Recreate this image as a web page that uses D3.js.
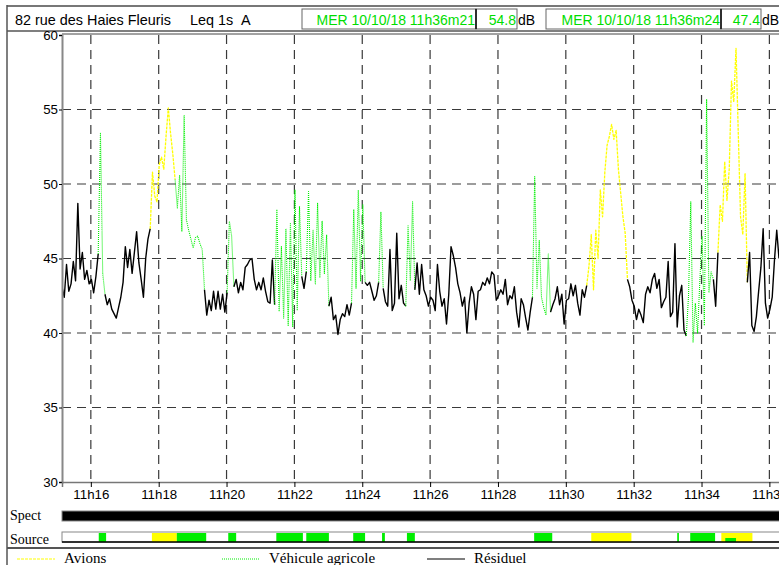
<!DOCTYPE html>
<html lang="fr">
<head>
<meta charset="UTF-8">
<title>82 rue des Haies Fleuris - Leq 1s A</title>
<script src="https://d3js.org/d3.v7.min.js"></script>
<style>
  body { margin: 0; background: #fff; }
  svg { display: block; font-family: "Liberation Sans", Arial, sans-serif; }
  .serif { font-family: "Liberation Serif", "Times New Roman", serif; }
</style>
</head>
<body>
<div id="chart"></div>
<script>
// sampling step of the series (seconds)
const stepSec = 4;

const yTicks = [30, 35, 40, 45, 50, 55, 60];

// [source, start time, levels in dB(A) every stepSec]
// A = Avions, V = Véhicule agricole, R = Résiduel
const segments = [
  ["R", "11:15:09", [43.1,42.4,44.6,42.8,43.3,44.8,43.5,48.7,44.3,45.4,43.6,44.2,43.3,43.6,42.7,43.8,45.3]],
  ["V", "11:16:13", [45.3,53.4,44.0,42.6]],
  ["R", "11:16:25", [42.6,41.9,42.3,41.6,41.3,41.0,41.7,42.4,43.4,45.8,44.4,45.6,44.0,45.4,46.8,44.7,43.6,42.4,45.0,46.3,47.0]],
  ["A", "11:17:45", [47.0,50.8,49.2,48.8,51.3,51.8,51.0,53.2,55.1,53.4,52.0,50.3]],
  ["V", "11:18:29", [50.3,48.4,50.6,46.8,54.6,47.6,46.9,46.3,45.7,46.4,46.5,46.0,45.6,42.9]],
  ["R", "11:19:21", [42.9,41.2,42.2,41.5,42.8,41.6,42.8,41.6,42.6,41.4,42.7]],
  ["V", "11:20:01", [42.7,47.5,46.5,43.1]],
  ["R", "11:20:13", [43.1,43.6,42.7,43.4,42.9,44.4,44.6,44.9,45.0,43.6,42.9,43.4,42.9,43.7,42.8,42.1,42.0,44.9,41.9]],
  ["V", "11:21:25", [41.9,48.3,41.5,45.8,41.0,47.0,40.5,47.4,40.4,49.6,41.5,48.5,43.8]],
  ["R", "11:22:13", [43.8,43.0,44.1]],
  ["V", "11:22:21", [44.1,49.5,43.5,46.9,43.3,48.7,43.7,47.5,44.0,46.6,41.8]],
  ["R", "11:23:01", [41.8,42.4,40.9,41.2,39.9,40.9,41.3,41.1,41.9,41.2,42.0]],
  ["V", "11:23:41", [42.0,48.3,43.0,49.6,43.5,48.6,43.4]],
  ["R", "11:24:05", [43.4,43.2,43.4,42.8,42.2,42.5,43.4]],
  ["V", "11:24:29", [43.4,48.1,43.0]],
  ["R", "11:24:37", [43.0,42.1,41.8,45.6,41.5,42.0,46.7,42.3,43.2,42.0,41.8]],
  ["V", "11:25:17", [41.8,47.2,43.5,48.8,42.9]],
  ["R", "11:25:33", [42.9,44.7,42.6,44.6,42.9,42.5,41.8,42.4,42.2,41.5,44.6,42.8,41.8,42.3,40.6,42.6,45.8,45.2,44.4,43.3,
                     42.7,41.8,42.4,40.0,42.0,43.1,42.6,40.9,42.8,42.9,43.4,43.2,43.7,43.3,44.1,43.9,42.2,42.5,42.9,42.6,
                     43.6,41.9,42.5,42.3,43.1,41.4,40.4,42.3,41.9,41.0,40.2,41.4,42.4]],
  ["V", "11:29:01", [42.4,50.5,43.0,46.2,42.4,41.7,41.2,45.3,41.4]],
  ["R", "11:29:33", [41.4,41.9,42.3,43.1,41.9,42.6,40.6,42.2,42.3,43.3,42.5,43.2,42.0,41.2,42.9,42.4,43.2]],
  ["A", "11:30:37", [43.2,44.5,46.6,42.9,46.9,45.0,49.6,47.8,50.8,52.6,53.2,54.0,53.0,53.6,51.0,49.4,47.8,46.7,43.6]],
  ["R", "11:31:49", [43.6,43.1,42.2,41.8,40.9,41.6,41.2,40.7,42.6,43.1,42.7,43.6,44.0,43.0,43.6,41.7,42.1,42.4,44.8,41.1,
                     41.4,46.0,40.4,42.5,43.2,40.2,39.8]],
  ["V", "11:33:33", [39.8,42.5,48.8,39.4,42.0,40.0,43.5,46.5,40.5,55.7,42.7,44.1,43.6]],
  ["R", "11:34:21", [43.6,41.8,45.4]],
  ["A", "11:34:29", [45.4,48.6,47.5,51.5,48.9,51.0,56.9,55.5,59.1,53.4,47.8,46.6,50.7,43.4]],
  ["R", "11:35:21", [43.4,45.4,40.5,40.1,41.1,42.8,44.4,47.0,42.0,41.0,41.6,42.4,44.9,46.9,45.0]]
];

// source coding bar: [source, from, to, row] (row 1 = small lower mark)
const sourceBands = [
  ["V", "11:16:14", "11:16:27", 0],
  ["A", "11:17:48", "11:18:32", 0],
  ["V", "11:18:32", "11:19:24", 0],
  ["V", "11:20:03", "11:20:17", 0],
  ["V", "11:21:28", "11:22:15", 0],
  ["V", "11:22:21", "11:23:01", 0],
  ["V", "11:23:44", "11:24:05", 0],
  ["V", "11:24:35", "11:24:40", 0],
  ["V", "11:25:19", "11:25:33", 0],
  ["V", "11:29:04", "11:29:36", 0],
  ["A", "11:30:45", "11:31:56", 0],
  ["V", "11:33:17", "11:33:20", 0],
  ["V", "11:33:40", "11:34:24", 0],
  ["A", "11:34:35", "11:35:30", 0],
  ["V", "11:34:42", "11:35:01", 1]
];

const cursorDates = ["MER 10/10/18 11h36m21", "MER 10/10/18 11h36m24"];
const cursorLevels = ["54.8", "47.4"];

const legendKeys = ["A", "V", "R"];
const legendLabels = ["Avions", "Véhicule agricole", "Résiduel"];

// ---- drawing ----
const W = 779, H = 565;
const parseT = d3.timeParse("%H:%M:%S");
const colors = { A: "#ffff00", V: "#00ee00", R: "#000000" };
const dashes = { A: "3,1", V: "1,1", R: null };
const widths = { A: 1.3, V: 1.1, R: 1.4 };
const green = "#00dd00";
const sans = "Liberation Sans, Arial, sans-serif";

const svg = d3.select("#chart").append("svg")
  .attr("width", W).attr("height", H);

const plotL = 62, plotT = 35, plotB = 482;

const x = d3.scaleTime()
  .domain([parseT("11:15:09"), parseT("11:36:40")])
  .range([plotL, 792]);
const y = d3.scaleLinear().domain([30, 60]).range([plotB, plotT]);

// frame
const frame = svg.append("g").attr("fill", "none");
frame.append("line").attr("x1", 7).attr("x2", W).attr("y1", 6).attr("y2", 6)
  .attr("stroke", "#777").attr("stroke-width", 2);
frame.append("line").attr("x1", 7).attr("x2", W).attr("y1", 31).attr("y2", 31)
  .attr("stroke", "#555").attr("stroke-width", 1.5);
frame.append("line").attr("x1", 7).attr("x2", 7).attr("y1", 5).attr("y2", H)
  .attr("stroke", "#555").attr("stroke-width", 1.5);
frame.append("line").attr("x1", 7).attr("x2", W).attr("y1", 548).attr("y2", 548)
  .attr("stroke", "#555").attr("stroke-width", 2);

// header
svg.append("text").attr("x", 15).attr("y", 25).attr("font-size", 14.4)
  .text("82 rue des Haies Fleuris");
svg.append("text").attr("x", 190).attr("y", 25).attr("font-size", 14.4).text("Leq 1s");
svg.append("text").attr("x", 241).attr("y", 25).attr("font-size", 14.4).text("A");

const boxes = [
  { x0: 302, x1: 476, text: cursorDates[0] },
  { x0: 476, x1: 517, text: cursorLevels[0], unit: true },
  { x0: 546, x1: 721, text: cursorDates[1] },
  { x0: 721, x1: 761, text: cursorLevels[1], unit: true }
];
boxes.forEach(b => {
  svg.append("rect").attr("x", b.x0).attr("y", 9).attr("width", b.x1 - b.x0).attr("height", 20)
    .attr("fill", "none").attr("stroke", "#666").attr("stroke-width", 1);
  svg.append("text").attr("x", b.x1 - 1).attr("y", 25).attr("font-size", 14)
    .attr("text-anchor", "end").attr("fill", green).text(b.text);
  if (b.unit) {
    svg.append("text").attr("x", b.x1 + 1).attr("y", 25).attr("font-size", 14).text("dB");
  }
});
// darker separators before the level boxes
[476, 721].forEach(px => {
  svg.append("line").attr("x1", px).attr("x2", px).attr("y1", 9).attr("y2", 29)
    .attr("stroke", "#111").attr("stroke-width", 1.5);
});

// grid
const grid = svg.append("g").attr("stroke", "#3a3a3a").attr("stroke-width", 1.2)
  .attr("stroke-dasharray", "9,6");
const xTicks = d3.timeMinute.every(2).range(parseT("11:16:00"), parseT("11:36:30"));
grid.selectAll("line.v").data(xTicks).join("line")
  .attr("x1", d => x(d)).attr("x2", d => x(d)).attr("y1", plotT).attr("y2", plotB);
grid.selectAll("line.h").data(yTicks.filter(v => v > 30 && v < 60)).join("line")
  .attr("x1", plotL).attr("x2", W).attr("y1", d => y(d)).attr("y2", d => y(d));

// plot border top
svg.append("line").attr("x1", plotL).attr("x2", W).attr("y1", 34).attr("y2", 34)
  .attr("stroke", "#444").attr("stroke-width", 1);

// series
svg.append("clipPath").attr("id", "plotClip")
  .append("rect").attr("x", plotL).attr("y", plotT - 2).attr("width", W - plotL).attr("height", plotB - plotT + 2);
const line = d3.line().x(d => x(d.t)).y(d => y(d.v));
const series = svg.append("g").attr("clip-path", "url(#plotClip)").attr("fill", "none");
segments.forEach(([src, start, vals]) => {
  const t0 = parseT(start);
  const pts = vals.map((v, i) => ({ t: d3.timeSecond.offset(t0, i * stepSec), v }));
  series.append("path").datum(pts)
    .attr("d", line)
    .attr("stroke", colors[src])
    .attr("stroke-width", widths[src])
    .attr("stroke-dasharray", dashes[src])
    .attr("stroke-linejoin", "round");
});

// axes
const yAxis = svg.append("g").attr("transform", `translate(${plotL},0)`)
  .call(d3.axisLeft(y).tickValues(yTicks).tickSize(3).tickPadding(1));
yAxis.attr("font-family", sans);
yAxis.select(".domain").attr("stroke", "#888").attr("stroke-width", 2);
yAxis.selectAll("text").attr("font-size", 13.3).attr("fill", "#000");

const xAxis = svg.append("g").attr("transform", `translate(0,${plotB})`)
  .call(d3.axisBottom(x).tickValues(xTicks).tickFormat(d3.timeFormat("%Hh%M")).tickSize(5).tickPadding(3));
xAxis.attr("font-family", sans);
xAxis.select(".domain").attr("stroke", "#777").attr("stroke-width", 1.5);
xAxis.selectAll("text").attr("font-size", 13.3).attr("fill", "#000");

// Spect and Source bars
svg.append("text").attr("class", "serif").attr("x", 10).attr("y", 520).attr("font-size", 14).text("Spect");
svg.append("rect").attr("x", plotL).attr("y", 511).attr("width", W - plotL + 5).attr("height", 10)
  .attr("fill", "#000").attr("stroke", "#888");

svg.append("text").attr("class", "serif").attr("x", 10).attr("y", 544).attr("font-size", 14).text("Source");
svg.append("rect").attr("x", plotL).attr("y", 532).attr("width", W - plotL + 5).attr("height", 10)
  .attr("fill", "#fff").attr("stroke", "#888");
svg.selectAll("rect.band").data(sourceBands).join("rect")
  .attr("class", "band")
  .attr("x", d => x(parseT(d[1])))
  .attr("width", d => x(parseT(d[2])) - x(parseT(d[1])))
  .attr("y", d => d[3] ? 538 : 533)
  .attr("height", d => d[3] ? 4 : 9)
  .attr("fill", d => d[0] === "A" ? "#ffff00" : "#00ee00");
svg.append("line").attr("x1", plotL).attr("x2", W).attr("y1", 542).attr("y2", 542)
  .attr("stroke", "#000").attr("stroke-width", 1.5);

// legend
const legendX = [17, 222, 427];
legendKeys.forEach((k, i) => {
  svg.append("line").attr("x1", legendX[i]).attr("x2", legendX[i] + 38)
    .attr("y1", 559).attr("y2", 559)
    .attr("stroke", colors[k]).attr("stroke-width", k === "R" ? 1.2 : 1)
    .attr("stroke-dasharray", dashes[k]);
  svg.append("text").attr("class", "serif").attr("x", legendX[i] + 47).attr("y", 563)
    .attr("font-size", 15).text(legendLabels[i]);
});
</script>
</body>
</html>
